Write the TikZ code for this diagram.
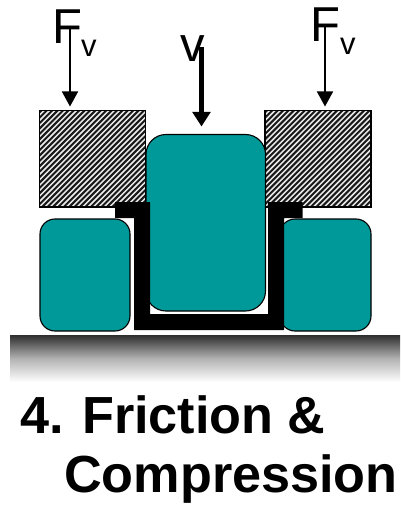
\documentclass[tikz,border=0pt]{standalone}
\usepackage{fontspec}
\setmainfont{Liberation Sans}
\usetikzlibrary{arrows.meta}
\definecolor{sealteal}{HTML}{009999}
\tikzset{
  seal/.style={draw=black,line width=1.1pt,fill=sealteal},
  hatchbox/.style={draw=black,line width=1.3pt},
  thinarrow/.style={line width=1.6pt,-{Triangle[length=15pt,width=16pt]}},
  thickarrow/.style={line width=4.6pt,-{Triangle[length=14.5pt,width=17.5pt]}},
  biglabel/.style={inner sep=0pt,anchor=base west,font=\fontsize{49}{49}\selectfont},
  sublabel/.style={inner sep=0pt,anchor=base west,font=\fontsize{31}{31}\selectfont},
  title/.style={inner sep=0pt,anchor=base west,font=\bfseries\fontsize{52.2}{52.2}\selectfont}
}
\begin{document}
\begin{tikzpicture}[x=1pt,y=-1pt]
\useasboundingbox (0,0) rectangle (400,505);
% hatched blocks
\foreach \xa/\xb in {39.5/145.5,265/371}{
  \begin{scope}
    \clip (\xa,110.5) rectangle (\xb,207);
    \fill[white!92!black] (\xa,110.5) rectangle (\xb,207);
    \foreach \k in {0,1,...,46}{
      \draw[line width=2pt,black!90] (\xa-100+\k*5.4,207) -- ++(100,-100);
    }
  \end{scope}
  \draw[hatchbox] (\xa,110.5) rectangle (\xb,207);
}
% seals
\draw[seal,rounded corners=20pt] (146,134.5) rectangle (265.5,311);
\draw[seal,rounded corners=15pt] (40,219) rectangle (130,331);
\draw[seal,rounded corners=15pt] (280,219) rectangle (371,331);
% channel
\fill[black] (115,202) -- (150,202) -- (150,314) -- (268,314) -- (268,202) -- (302.5,202)
  -- (302.5,218) -- (284,218) -- (284,330) -- (134,330) -- (134,218) -- (115,218) -- cycle;
% base
\shade[top color=black!82,bottom color=white,middle color=black!30,shading angle=0]
  (10,335) rectangle (400,382);
% labels
\node[biglabel] (fl) at (52,44) {F};
\node[sublabel] (vl) at (81,57) {v};
\node[biglabel] (fr) at (310,42) {F};
\node[sublabel] (vr) at (340,55) {v};
\node[biglabel] (vc) at (180,62) {v};
% arrows
\coordinate (al) at (70,29);
\coordinate (bl) at (70,106.5);
\coordinate (ac) at (201.5,47);
\coordinate (bc) at (201.5,126.5);
\coordinate (ar) at (325,27);
\coordinate (br) at (325,106.5);
\draw[thinarrow] (al) -- (bl);
\draw[thinarrow] (ar) -- (br);
\draw[thickarrow] (ac) -- (bc);
% title
\node[title] (t1) at (20,433) {\spaceskip=0.26em 4. Friction \&};
\node[title] (t2) at (64,492) {Compression};
\end{tikzpicture}
\end{document}
